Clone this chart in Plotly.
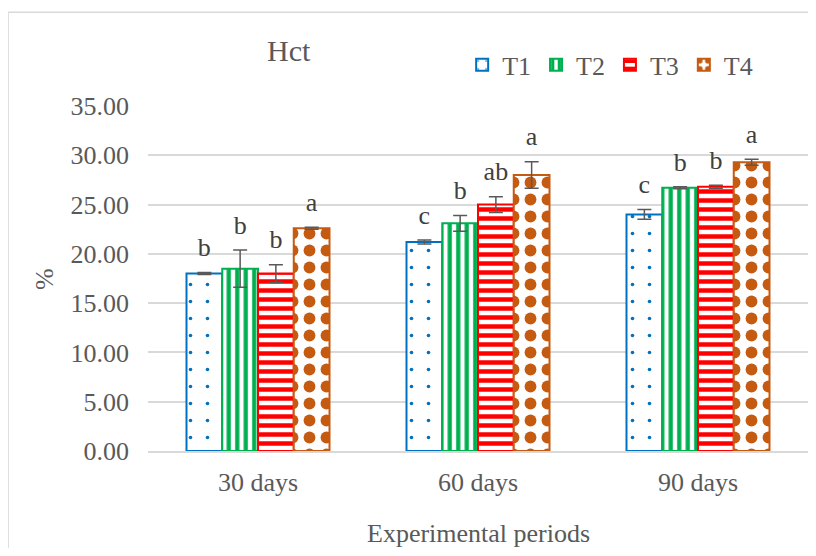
import plotly.graph_objects as go

categories = ["30 days", "60 days", "90 days"]
series_names = ["T1", "T2", "T3", "T4"]
t1 = [18.0, 21.2, 24.0]
t2 = [18.5, 23.1, 26.7]
t3 = [18.0, 25.0, 26.8]
t4 = [22.6, 28.0, 29.3]
t1_err = [0.1, 0.2, 0.5]
t2_err = [1.9, 0.8, 0.1]
t3_err = [0.9, 0.8, 0.15]
t4_err = [0.1, 1.35, 0.3]
t1_lab = ["b", "c", "c"]
t2_lab = ["b", "b", "b"]
t3_lab = ["b", "ab", "b"]
t4_lab = ["a", "a", "a"]
y_ticks = [0, 5, 10, 15, 20, 25, 30, 35]

values = [t1, t2, t3, t4]
errors = [t1_err, t2_err, t3_err, t4_err]
labels = [t1_lab, t2_lab, t3_lab, t4_lab]
colors = ["#0070C0", "#00B050", "#FF0000", "#C55A11"]
patterns = [
    dict(shape=".", fgcolor="#0070C0", bgcolor="white", size=17, solidity=0.035, fillmode="replace", fgopacity=1),
    dict(shape="|", fgcolor="#00B050", bgcolor="white", size=8.5, solidity=0.5, fillmode="replace", fgopacity=1),
    dict(shape="-", fgcolor="#FF0000", bgcolor="white", size=9, solidity=0.5, fillmode="replace", fgopacity=1),
    dict(shape=".", fgcolor="#C55A11", bgcolor="white", size=17, solidity=0.38, fillmode="replace", fgopacity=1),
]

FONT = "Liberation Serif"
GRAY = "#595959"
FS = 26

fig = go.Figure()
for i in range(4):
    fig.add_trace(go.Bar(
        name=series_names[i], x=categories, y=values[i],
        offsetgroup=str(i),
        marker=dict(color="white", pattern=patterns[i],
                    line=dict(color=colors[i], width=2)),
        error_y=dict(type="data", array=errors[i], color=GRAY, thickness=1.5, width=7),
    ))
for i in range(4):
    fig.add_trace(go.Scatter(
        x=categories, y=[v + e for v, e in zip(values[i], errors[i])],
        offsetgroup=str(i), mode="markers+text", text=labels[i],
        marker=dict(size=14, opacity=0),
        textposition="top center", showlegend=False, hoverinfo="skip",
        textfont=dict(family=FONT, size=FS, color="#404040"),
    ))

fig.update_layout(
    width=800, height=540,
    barmode="group", bargap=0.35, bargroupgap=0,
    scattermode="group", scattergap=0.35,
    plot_bgcolor="white", paper_bgcolor="white",
    margin=dict(l=140, r=0, t=98, b=97, autoexpand=False),
    font=dict(family=FONT, color=GRAY, size=FS),
    legend=dict(orientation="h", x=0.476, xanchor="left", y=1.119, yanchor="middle",
                font=dict(family=FONT, size=FS, color=GRAY), traceorder="normal",
                itemwidth=30, bgcolor="rgba(0,0,0,0)"),
    annotations=[
        dict(text="Hct", xref="paper", yref="paper", x=0.214, y=1.162,
             xanchor="center", yanchor="middle", showarrow=False,
             font=dict(family=FONT, size=30, color=GRAY)),
        dict(text="%", xref="paper", yref="paper", x=-0.157, y=0.5, textangle=-90,
             xanchor="center", yanchor="middle", showarrow=False,
             font=dict(family=FONT, size=FS, color=GRAY)),
        dict(text="Experimental periods", xref="paper", yref="paper", x=0.5, y=-0.238,
             xanchor="center", yanchor="middle", showarrow=False,
             font=dict(family=FONT, size=FS, color=GRAY)),
    ],
    shapes=[
        dict(type="line", xref="paper", yref="paper", x0=-0.212, x1=1.0,
             y0=1.272, y1=1.272, line=dict(color="#D9D9D9", width=1.5), layer="below"),
        dict(type="line", xref="paper", yref="paper", x0=-0.212, x1=-0.212,
             y0=1.272, y1=-0.4, line=dict(color="#D9D9D9", width=1.5), layer="below"),
    ],
)
fig.update_xaxes(showline=True, linecolor="#D9D9D9", linewidth=1.5, ticks="",
                 showgrid=False, automargin=False, ticklabelstandoff=7,
                 tickfont=dict(size=FS, color=GRAY))
fig.update_yaxes(range=[0, 35], tickvals=y_ticks, tickformat=".2f", automargin=False,
                 showgrid=True, gridcolor="#D9D9D9", gridwidth=1.5, zeroline=False,
                 ticklabelstandoff=18, showline=False,
                 tickfont=dict(size=FS, color=GRAY), ticks="", ticklen=0)

fig.write_html("out.html")
